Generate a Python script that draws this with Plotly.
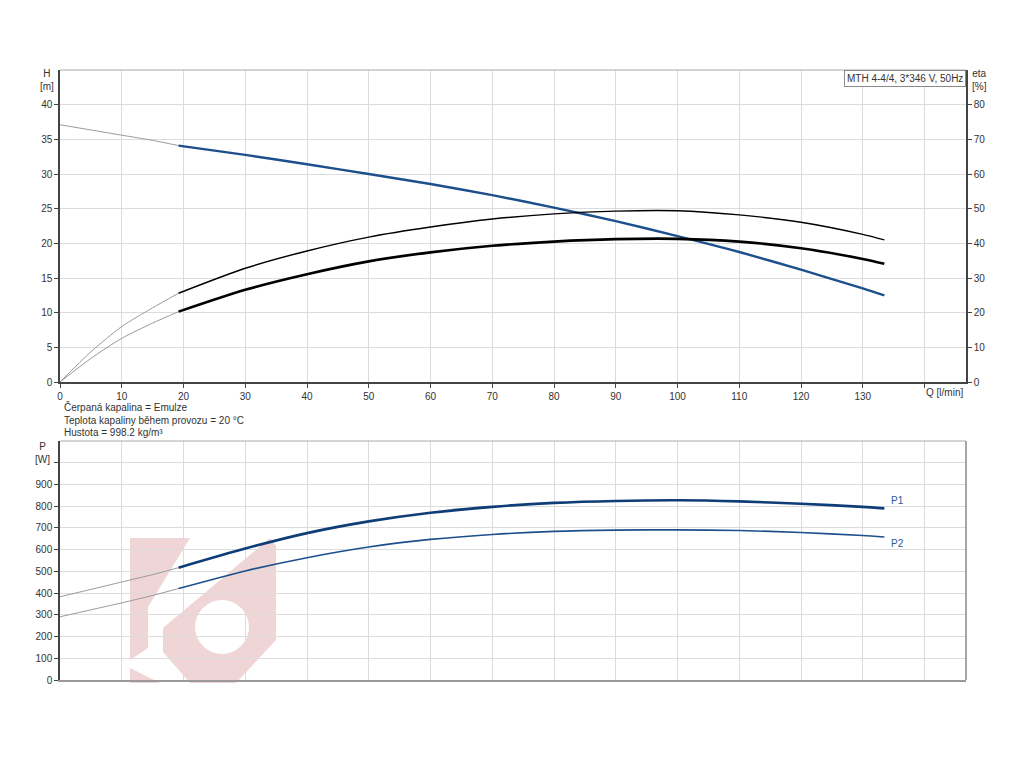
import plotly.graph_objects as go

# ---------------- data ----------------
q_ext = [0, 5, 10, 15, 19.2]
q_main = [19.2, 30, 40, 50, 60, 70, 80, 90, 100, 110, 120, 130, 133.5]

h_ext = [37.1, 36.35, 35.6, 34.85, 34.1]
h_main = [34.1, 32.75, 31.4, 30.0, 28.55, 26.95, 25.15, 23.2, 21.05, 18.75, 16.2, 13.5, 12.5]

eta1_ext = [0, 8.7, 16.0, 21.4, 25.6]
eta1_main = [25.6, 32.8, 37.8, 41.8, 44.7, 47.0, 48.5, 49.3, 49.4, 48.2, 46.1, 42.6, 41.0]

eta2_ext = [0, 6.8, 12.6, 17.0, 20.3]
eta2_main = [20.3, 26.6, 31.1, 34.8, 37.4, 39.3, 40.5, 41.2, 41.3, 40.5, 38.6, 35.5, 34.1]

p1_ext = [383, 417, 451, 485, 517]
p1_main = [517, 605, 676, 730, 770, 797, 815, 824, 827, 822, 811, 797, 790]

p2_ext = [291, 323, 355, 389, 421]
p2_main = [421, 502, 563, 612, 647, 670, 684, 690, 691, 688, 679, 665, 658]

x_tickvals = [0, 10, 20, 30, 40, 50, 60, 70, 80, 90, 100, 110, 120, 130, 140]
x_ticktext = ["0", "10", "20", "30", "40", "50", "60", "70", "80", "90", "100", "110", "120", "130", ""]
x_unit_label = "Q [l/min]"
h_tickvals = [0, 5, 10, 15, 20, 25, 30, 35, 40]
eta_tickvals = [0, 10, 20, 30, 40, 50, 60, 70, 80]
p_tickvals = [0, 100, 200, 300, 400, 500, 600, 700, 800, 900, 1000]
p_ticktext = ["0", "100", "200", "300", "400", "500", "600", "700", "800", "900", ""]

info_lines = ["Čerpaná kapalina = Emulze",
              "Teplota kapaliny během provozu = 20 °C",
              "Hustota = 998.2 kg/m³"]
title_box = "MTH 4-4/4, 3*346 V, 50Hz"

# ---------------- styling ----------------
FONT = "Liberation Sans, Arial, sans-serif"
TXT = "#333333"
GRID = "#dcdcdc"
EXT = "#9a9a9a"
BLUE_H = "#1d4f8c"
BLUE_P1 = "#0e3d78"
BLUE_P2 = "#1d4f8c"

# page body has an 8px default margin
OFF = 8
W, H = 1024 - OFF, 768 - OFF
PLOT_L, PLOT_R, PLOT_T, PLOT_B = 60, 966, 70, 680   # screen pixels of the plot area
L, T = PLOT_L - OFF, PLOT_T - OFF
R = (OFF + W) - PLOT_R
B = (OFF + H) - PLOT_B
PW, PH = PLOT_R - PLOT_L, PLOT_B - PLOT_T


def px(x):
    return (x - PLOT_L) / PW


def py(y):
    return (PLOT_B - y) / PH


fig = go.Figure()

spline = dict(shape="spline", smoothing=0.7)

# top chart
for ys, ax in [(h_ext, "y"), (eta1_ext, "y2"), (eta2_ext, "y2")]:
    fig.add_trace(go.Scatter(x=q_ext, y=ys, mode="lines", line=dict(color=EXT, width=1, **spline),
                             xaxis="x", yaxis=ax, hoverinfo="skip"))
fig.add_trace(go.Scatter(x=q_main, y=eta1_main, mode="lines", line=dict(color="#000000", width=1.4, **spline),
                         xaxis="x", yaxis="y2", name="eta"))
fig.add_trace(go.Scatter(x=q_main, y=eta2_main, mode="lines", line=dict(color="#000000", width=2.6, **spline),
                         xaxis="x", yaxis="y2", name="eta"))
fig.add_trace(go.Scatter(x=q_main, y=h_main, mode="lines", line=dict(color=BLUE_H, width=2.4, **spline),
                         xaxis="x", yaxis="y", name="H"))

# bottom chart
for ys in [p1_ext, p2_ext]:
    fig.add_trace(go.Scatter(x=q_ext, y=ys, mode="lines", line=dict(color=EXT, width=1, **spline),
                             xaxis="x2", yaxis="y3", hoverinfo="skip"))
fig.add_trace(go.Scatter(x=q_main, y=p1_main, mode="lines", line=dict(color=BLUE_P1, width=2.6, **spline),
                         xaxis="x2", yaxis="y3", name="P1"))
fig.add_trace(go.Scatter(x=q_main, y=p2_main, mode="lines", line=dict(color=BLUE_P2, width=1.6, **spline),
                         xaxis="x2", yaxis="y3", name="P2"))

top_lo = py(382)
bot_hi = py(441)
xmax = (PLOT_R - PLOT_L) / 61.75 * 10

axis_font = dict(family=FONT, size=10, color=TXT)

fig.update_layout(
    width=W, height=H, autosize=False,
    margin=dict(l=L, r=R, t=T, b=B),
    paper_bgcolor="white", plot_bgcolor="rgba(0,0,0,0)",
    showlegend=False,
    font=axis_font,
    xaxis=dict(domain=[0, 1], anchor="y", range=[0, xmax], tickmode="array",
               tickvals=x_tickvals, ticktext=x_ticktext, showgrid=True, gridcolor=GRID, gridwidth=1,
               showline=True, linecolor="#444444", linewidth=1.5, ticks="outside", ticklen=4,
               tickcolor="#444444", zeroline=False, tickfont=axis_font, automargin=False),
    yaxis=dict(domain=[top_lo, 1], anchor="x", range=[0, 45], tickmode="array",
               tickvals=h_tickvals, showgrid=True, gridcolor=GRID, gridwidth=1,
               showline=True, linecolor="#444444", linewidth=1.5, ticks="outside", ticklen=4,
               tickcolor="#444444", zeroline=False, tickfont=axis_font, automargin=False),
    yaxis2=dict(overlaying="y", side="right", anchor="x", range=[0, 90], tickmode="array",
                tickvals=eta_tickvals, showgrid=False, showline=True, linecolor="#444444", linewidth=1.5,
                ticks="outside", ticklen=4, tickcolor="#444444", zeroline=False, tickfont=axis_font,
                automargin=False),
    xaxis2=dict(domain=[0, 1], anchor="y3", range=[0, xmax], tickmode="array",
                tickvals=x_tickvals, showticklabels=False, showgrid=True, gridcolor=GRID, gridwidth=1,
                showline=True, linecolor="#9a9a9a", linewidth=1.5, ticks="", zeroline=False,
                automargin=False),
    yaxis3=dict(domain=[0, bot_hi], anchor="x2", range=[0, 1100], tickmode="array",
                tickvals=p_tickvals, ticktext=p_ticktext, showgrid=True, gridcolor=GRID, gridwidth=1,
                showline=True, linecolor="#444444", linewidth=1.5, ticks="outside", ticklen=4,
                tickcolor="#444444", zeroline=False, tickfont=axis_font, automargin=False),
)

shapes = []
# frame borders
shapes.append(dict(type="line", xref="paper", yref="paper", x0=0, x1=1, y0=1, y1=1,
                   line=dict(color="#a8a8a8", width=1)))
shapes.append(dict(type="line", xref="paper", yref="paper", x0=0, x1=1, y0=bot_hi, y1=bot_hi,
                   line=dict(color="#a8a8a8", width=1)))
shapes.append(dict(type="line", xref="paper", yref="paper", x0=1, x1=1, y0=0, y1=bot_hi,
                   line=dict(color="#8a8a8a", width=1.5)))


def poly(points):
    return "M " + " L ".join(f"{px(x):.5f},{py(y):.5f}" for x, y in points) + " Z"


WM = "rgba(214,150,150,0.40)"
wm_parts = [
    [(130, 538), (190, 538), (148, 607), (148, 648), (130, 660)],
    [(130, 668), (160, 683), (130, 683)],
    [(163, 628), (270, 538), (276, 546), (276, 640), (236, 683), (190, 683), (163, 652)],
]
for pts in wm_parts:
    shapes.append(dict(type="path", xref="paper", yref="paper", path=poly(pts),
                       fillcolor=WM, line=dict(width=0), layer="below"))
shapes.append(dict(type="circle", xref="paper", yref="paper",
                   x0=px(222 - 27), x1=px(222 + 27), y0=py(627 + 27), y1=py(627 - 27),
                   fillcolor="white", line=dict(width=0), layer="below"))

fig.update_layout(shapes=shapes)

ann = []
ann.append(dict(text="H<br>[m]", x=px(47), y=py(80), xref="paper", yref="paper", showarrow=False,
                xanchor="center", yanchor="middle", font=axis_font))
ann.append(dict(text="eta<br>[%]", x=px(979), y=py(80), xref="paper", yref="paper", showarrow=False,
                xanchor="center", yanchor="middle", font=axis_font))
ann.append(dict(text="P<br>[W]", x=px(42), y=py(453), xref="paper", yref="paper", showarrow=False,
                xanchor="center", yanchor="middle", font=axis_font))
ann.append(dict(text=x_unit_label, x=140, xref="x", y=py(392), yref="paper", showarrow=False,
                xanchor="left", yanchor="middle", font=axis_font, xshift=-1))
for i, line in enumerate(info_lines):
    ann.append(dict(text=line, x=px(62), y=py(407 + 13 * i), xref="paper", yref="paper", showarrow=False,
                    xanchor="left", yanchor="middle", font=axis_font))
ann.append(dict(text=title_box, x=1, y=1, xref="paper", yref="paper", showarrow=False,
                xanchor="right", yanchor="top", font=axis_font, bgcolor="white",
                bordercolor="#8a8a8a", borderwidth=1, borderpad=2))
ann.append(dict(text="P1", x=px(897), y=py(500), xref="paper", yref="paper", showarrow=False,
                xanchor="center", yanchor="middle", font=dict(family=FONT, size=10, color="#2a5a96")))
ann.append(dict(text="P2", x=px(897), y=py(543), xref="paper", yref="paper", showarrow=False,
                xanchor="center", yanchor="middle", font=dict(family=FONT, size=10, color="#2a5a96")))
fig.update_layout(annotations=ann)

fig.write_html("out.html")
